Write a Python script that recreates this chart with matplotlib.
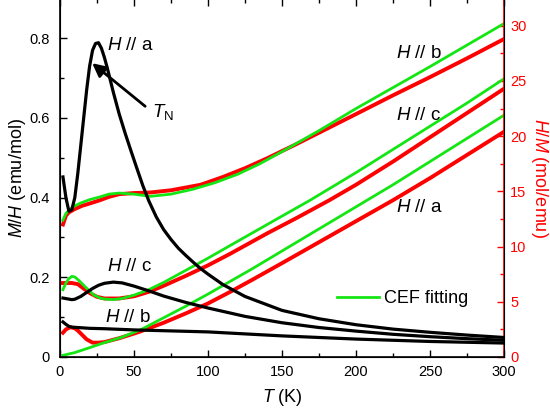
"""
M/H and H/M versus temperature for three field directions, with CEF fits
"""
import matplotlib
matplotlib.use("Agg")
import matplotlib.pyplot as plt
from matplotlib.ticker import MultipleLocator

# M/H (left axis), black
t_mh_a = [2, 4, 6, 8, 10, 12, 14, 16, 18, 20, 22, 24, 26, 28, 30, 32, 36, 40,
          44, 48, 52, 56, 60, 65, 70, 75, 80, 85, 90, 95, 100, 110, 125, 150,
          175, 200, 225, 250, 275, 300]
mh_a = [0.452, 0.40, 0.366, 0.37, 0.40, 0.46, 0.53, 0.60, 0.67, 0.73, 0.77,
        0.787, 0.789, 0.775, 0.752, 0.725, 0.665, 0.61, 0.562, 0.517, 0.473,
        0.43, 0.392, 0.352, 0.32, 0.295, 0.273, 0.255, 0.238, 0.222, 0.208,
        0.182, 0.152, 0.117, 0.096, 0.081, 0.070, 0.062, 0.055, 0.049]
t_mh_c = [2, 5, 8, 10, 14, 18, 22, 26, 30, 36, 42, 50, 60, 70, 85, 100, 125,
          150, 175, 200, 225, 250, 275, 300]
mh_c = [0.148, 0.146, 0.144, 0.145, 0.152, 0.162, 0.172, 0.18, 0.185, 0.188,
        0.186, 0.178, 0.166, 0.153, 0.137, 0.123, 0.102, 0.086, 0.074, 0.065,
        0.057, 0.051, 0.046, 0.042]
t_mh_b = [2, 4, 6, 8, 12, 20, 30, 50, 70, 100, 125, 150, 175, 200, 250, 300]
mh_b = [0.088, 0.082, 0.077, 0.075, 0.074, 0.072, 0.071, 0.068, 0.066, 0.063,
        0.058, 0.053, 0.049, 0.045, 0.039, 0.035]

# H/M (right axis), measured (red)
t_hm_b = [2, 4, 6, 10, 15, 20, 27, 33, 40, 50, 61, 75, 95, 110, 125, 140, 160,
          180, 200, 225, 250, 275, 300]
hm_b = [12.0, 12.8, 13.1, 13.4, 13.7, 13.9, 14.2, 14.5, 14.75, 14.85, 14.9,
        15.1, 15.6, 16.3, 17.1, 18.0, 19.3, 20.65, 22.0, 23.7, 25.35, 27.05,
        28.8]
t_hm_c = [2, 5, 8, 12, 16, 20, 25, 30, 40, 50, 60, 70, 85, 100, 115, 140, 160,
          182, 200, 225, 250, 275, 300]
hm_c = [6.7, 6.7, 6.7, 6.6, 6.2, 5.8, 5.45, 5.3, 5.3, 5.5, 5.9, 6.45, 7.35,
        8.3, 9.35, 11.2, 12.6, 14.2, 15.6, 17.7, 19.9, 22.1, 24.3]
t_hm_a = [2, 4, 7, 10, 12, 15, 18, 22, 26, 30, 40, 53, 70, 85, 100, 115, 130,
          150, 175, 200, 225, 250, 275, 300]
hm_a = [2.2, 2.5, 2.7, 2.6, 2.4, 2.0, 1.6, 1.3, 1.3, 1.35, 1.7, 2.25, 3.1,
        3.95, 4.85, 5.9, 7.0, 8.5, 10.4, 12.3, 14.2, 16.2, 18.3, 20.4]

# H/M CEF fits (green)
t_fit_b = [2, 4, 6, 10, 15, 20, 27, 33, 40, 50, 61, 75, 90, 105, 120, 135,
           150, 175, 200, 225, 250, 275, 300]
fit_b = [12.4, 13.0, 13.3, 13.7, 14.0, 14.25, 14.5, 14.75, 14.85, 14.75,
         14.55, 14.75, 15.2, 15.8, 16.55, 17.5, 18.6, 20.5, 22.5, 24.4, 26.3,
         28.25, 30.2]
t_fit_c = [2, 4, 6, 8, 10, 13, 16, 19, 23, 27, 30, 36, 42, 50, 60, 70, 85,
           100, 115, 140, 169, 200, 225, 250, 275, 300]
fit_c = [6.1, 6.7, 7.1, 7.3, 7.25, 6.9, 6.5, 6.1, 5.6, 5.35, 5.25, 5.2, 5.3,
         5.6, 6.1, 6.75, 7.85, 8.95, 10.1, 12.0, 14.2, 16.7, 18.8, 20.9, 23.0,
         25.2]
t_fit_a = [2, 10, 19, 30, 42, 55, 70, 85, 100, 115, 130, 150, 175, 200, 225,
           250, 275, 300]
fit_a = [0.15, 0.4, 0.8, 1.3, 1.8, 2.5, 3.55, 4.6, 5.7, 6.85, 8.0, 9.6, 11.6,
         13.6, 15.6, 17.7, 19.8, 21.9]

RED = "#ff0000"
GREEN = "#14e614"

plt.rcParams["font.family"] = ["Liberation Sans", "DejaVu Sans"]
plt.rcParams["mathtext.fontset"] = "custom"
plt.rcParams["mathtext.rm"] = "Liberation Sans"
plt.rcParams["mathtext.it"] = "Liberation Sans:italic"
plt.rcParams["font.size"] = 10.5


def plot():
    """Draw both axes and save the figure"""
    fig = plt.figure(figsize=(5.5, 4.17), dpi=100)
    axis = fig.add_axes([60 / 550, 60 / 417, 444 / 550, 358.5 / 417])
    axis2 = axis.twinx()

    axis.plot(t_mh_a, mh_a, color="black", lw=2.3)
    axis.plot(t_mh_c, mh_c, color="black", lw=2.3)
    axis.plot(t_mh_b, mh_b, color="black", lw=2.3)

    for t_vals, h_vals in [(t_hm_b, hm_b), (t_hm_c, hm_c), (t_hm_a, hm_a)]:
        axis2.plot(t_vals, h_vals, color=RED, lw=2.8)
    axis2.plot(t_fit_b, fit_b, color=GREEN, lw=2.0, label="CEF fitting")
    axis2.plot(t_fit_c, fit_c, color=GREEN, lw=2.0)
    axis2.plot(t_fit_a, fit_a, color=GREEN, lw=2.0)

    # black curves on top of the red/green ones
    axis.set_zorder(axis2.get_zorder() + 1)
    axis.patch.set_visible(False)

    axis.set_xlim(0, 300)
    axis.set_ylim(0, 0.9)
    axis2.set_ylim(0, 32.47)

    axis.xaxis.set_major_locator(MultipleLocator(50))
    axis.xaxis.set_minor_locator(MultipleLocator(25))
    axis.yaxis.set_major_locator(MultipleLocator(0.2))
    axis.yaxis.set_minor_locator(MultipleLocator(0.1))
    axis2.yaxis.set_major_locator(MultipleLocator(5))
    axis2.yaxis.set_minor_locator(MultipleLocator(2.5))
    axis.yaxis.set_major_formatter(
        plt.FuncFormatter(lambda v, _: "0" if v == 0 else f"{v:.1f}"))

    axis.tick_params(which="both", direction="in", top=True, right=False,
                     labelsize=10.5, width=1)
    axis.tick_params(which="major", length=5)
    axis.tick_params(which="minor", length=3)
    axis.tick_params(axis="y", pad=7.5)
    axis.tick_params(axis="x", pad=5.5)
    axis2.tick_params(which="both", direction="in", colors=RED,
                      labelsize=10.5, width=1, pad=4.5)
    axis2.tick_params(which="major", length=5)
    axis2.tick_params(which="minor", length=3)
    axis2.spines["right"].set_color(RED)
    axis2.spines["right"].set_linewidth(1.2)
    for side in ["left", "bottom", "top"]:
        axis.spines[side].set_linewidth(1.2)

    axis.set_xlabel(r"$T$ (K)", fontsize=13, labelpad=6)
    axis.set_ylabel(r"$M$/$H$ (emu/mol)", fontsize=13, labelpad=1)
    axis2.set_ylabel(r"$H$/$M$ (mol/emu)", fontsize=13, color=RED,
                     rotation=270, labelpad=17)

    axis.text(32, 0.783, r"$H$ // a", fontsize=13.5, va="center")
    axis.text(31.5, 0.226, r"$H$ // c", fontsize=13.5, va="center")
    axis.text(30.5, 0.098, r"$H$ // b", fontsize=13.5, va="center")
    axis2.text(227, 27.5, r"$H$ // b", fontsize=13.5, va="center")
    axis2.text(227, 21.9, r"$H$ // c", fontsize=13.5, va="center")
    axis2.text(227, 13.5, r"$H$ // a", fontsize=13.5, va="center")

    axis.annotate("", xy=(20.3, 0.742), xytext=(59, 0.625),
                  arrowprops=dict(arrowstyle="-|>", color="black", lw=2,
                                  mutation_scale=20))
    axis.text(62.5, 0.615, r"$T_\mathrm{N}$", fontsize=13.5, va="center")

    axis2.legend(loc="center left", bbox_to_anchor=(0.624, 0.162),
                 frameon=False, fontsize=13, handlelength=2.3,
                 handletextpad=0.3, borderpad=0, borderaxespad=0)

    fig.savefig("out.png", dpi=100)


if __name__ == '__main__':
    plot()
